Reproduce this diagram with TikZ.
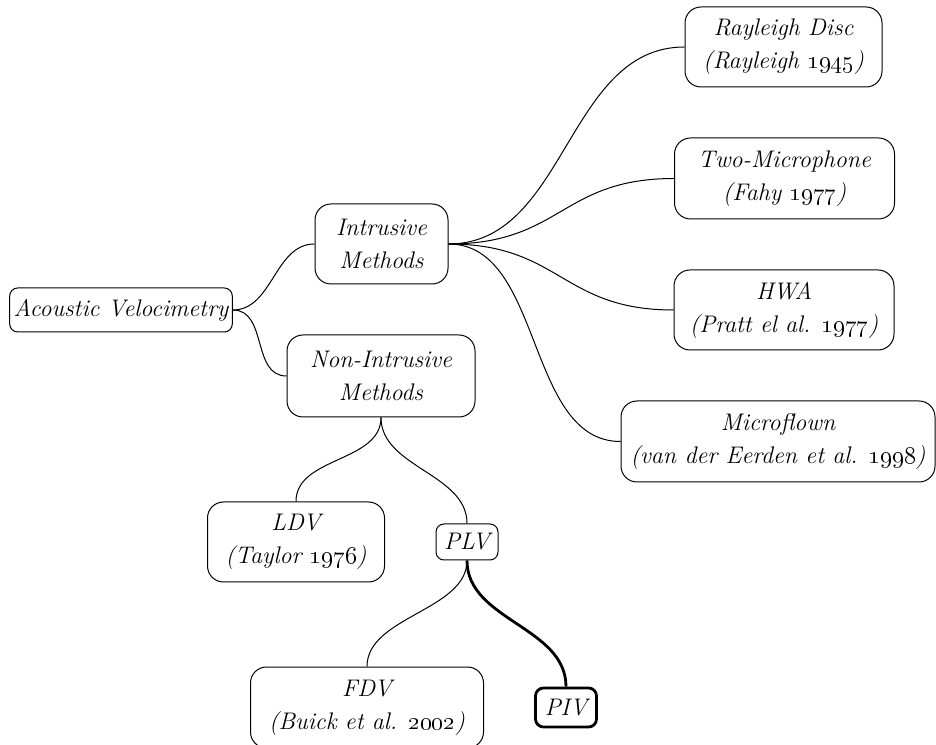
\documentclass[tikz,border=0pt]{standalone}
\tikzset{
  topic/.style={draw, rounded corners=8pt, align=center, inner sep=2pt,
    font=\fontsize{12pt}{16.5pt}\selectfont\itshape},
  tag/.style={topic, rounded corners=4pt},
  bold/.style={line width=1.4pt}
}
\begin{document}
\begin{tikzpicture}[x=0.5pt,y=0.5pt,line width=0.5pt]
\useasboundingbox (0,0) rectangle (936,744);
\node[tag, minimum width=111pt, minimum height=22pt] (av) at (121,434) {Acoustic Velocimetry};
\node[topic, minimum width=66.5pt, minimum height=40pt] (im) at (381.5,500) {Intrusive\\Methods};
\node[topic, minimum width=94pt, minimum height=41pt] (nim) at (381,368) {Non-Intrusive\\Methods};
\node[topic, minimum width=98.5pt, minimum height=40pt] (ray) at (783.5,697) {Rayleigh Disc\\(Rayleigh \oldstylenums{1945})};
\node[topic, minimum width=110pt, minimum height=40.5pt] (two) at (784.5,565.5) {Two-Microphone\\(Fahy \oldstylenums{1977})};
\node[topic, minimum width=110pt, minimum height=40pt] (hwa) at (784,434) {HWA\\(Pratt el al. \oldstylenums{1977})};
\node[topic, minimum width=157pt, minimum height=40.5pt] (mic) at (778,302.5) {Microflown\\(van der Eerden et al. \oldstylenums{1998})};
\node[topic, minimum width=88.5pt, minimum height=40pt] (ldv) at (296,202) {LDV\\(Taylor \oldstylenums{1976})};
\node[tag, minimum width=31pt, minimum height=18pt] (plv) at (467,202) {PLV};
\node[topic, minimum width=116.5pt, minimum height=40.5pt] (fdv) at (367,36.5) {FDV\\(Buick et al. \oldstylenums{2002})};
\node[tag, bold, minimum width=30.5pt, minimum height=19.5pt] (piv) at (566,36.5) {PIV};

% first level
\draw (av.east) .. controls +(0:40) and +(180:40) .. (im.west);
\draw (av.east) .. controls +(0:35) and +(180:35) .. (nim.west);
% intrusive
\draw (im.east) .. controls +(0:118) and +(180:118) .. (ray.west);
\draw (im.east) .. controls +(0:113) and +(180:113) .. (two.west);
\draw (im.east) .. controls +(0:112) and +(180:112) .. (hwa.west);
\draw (im.east) .. controls +(0:95) and +(180:95) .. (mic.west);
% non-intrusive
\draw (nim.south) .. controls +(-90:45) and +(90:45) .. (ldv.north);
\draw (nim.south) .. controls +(-90:50) and +(90:50) .. (plv.north);
\draw (plv.south) .. controls +(-90:50) and +(90:50) .. (fdv.north);
\draw[bold] (plv.south) .. controls +(-90:60) and +(90:60) .. (piv.north);
\end{tikzpicture}
\end{document}
